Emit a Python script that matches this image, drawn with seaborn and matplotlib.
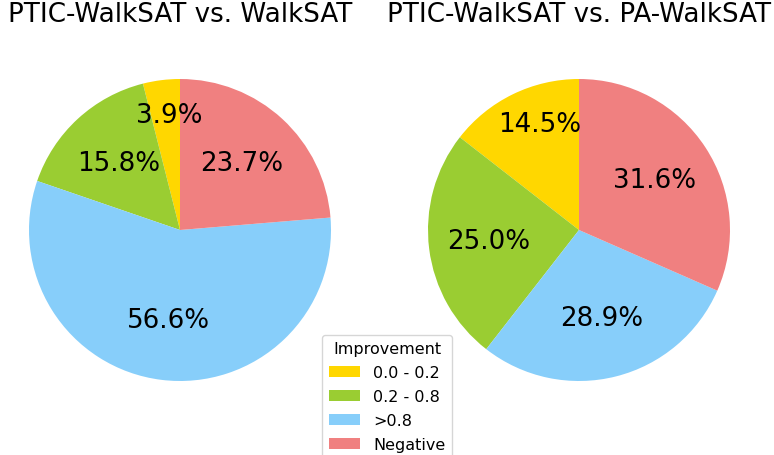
import matplotlib
matplotlib.use("Agg")
import matplotlib.pyplot as plt
import seaborn as sns

sns.set_style("white")
plt.rcParams['font.family'] = ['DejaVu Sans']
plt.rcParams['text.color'] = 'black'
plt.rcParams['legend.edgecolor'] = '0.8'

categories = ["0.0 - 0.2", "0.2 - 0.8", ">0.8", "Negative"]
vs_walksat = [3, 12, 43, 18]
vs_pa_walksat = [11, 19, 22, 24]
titles = ["PTIC-WalkSAT vs. WalkSAT", "PTIC-WalkSAT vs. PA-WalkSAT"]
colors = ["gold", "yellowgreen", "lightskyblue", "lightcoral"]

W, H = 774, 456
fig = plt.figure(figsize=(W / 100, H / 100), dpi=100)

centers = [(180, 231), (579, 231)]
r = 151
wedges_all = None
for (cx, cy), data, title in zip(centers, [vs_walksat, vs_pa_walksat], titles):
    ax = fig.add_axes([(cx - r) / W, 1 - (cy + r) / H, 2 * r / W, 2 * r / H])
    wedges, texts, autotexts = ax.pie(data, colors=colors, startangle=90,
                                      autopct="%1.1f%%", pctdistance=0.6,
                                      wedgeprops={"linewidth": 0, "edgecolor": "none"},
                                      textprops={"fontsize": 18.8, "color": "black"})
    # the small first-slice label is lifted upward in the reference
    x0, y0 = autotexts[0].get_position()
    autotexts[0].set_position((x0, y0 + 0.165))
    ax.set_xlim(-1, 1)
    ax.set_ylim(-1, 1)
    ax.set_aspect("equal")
    ax.axis("off")
    fig.text(cx / W, 1 - 15 / H, title, ha="center", va="center", fontsize=18.8,
             color="black")
    wedges_all = wedges

leg = fig.legend(wedges_all, categories, title="Improvement", loc="upper center",
                 bbox_to_anchor=(387 / W, 1 - 328 / H), fontsize=11.5, title_fontsize=11.5,
                 labelspacing=0.56)
for t in leg.get_texts():
    t.set_color("black")
leg.get_title().set_color("black")

fig.savefig("out.png", dpi=100)
